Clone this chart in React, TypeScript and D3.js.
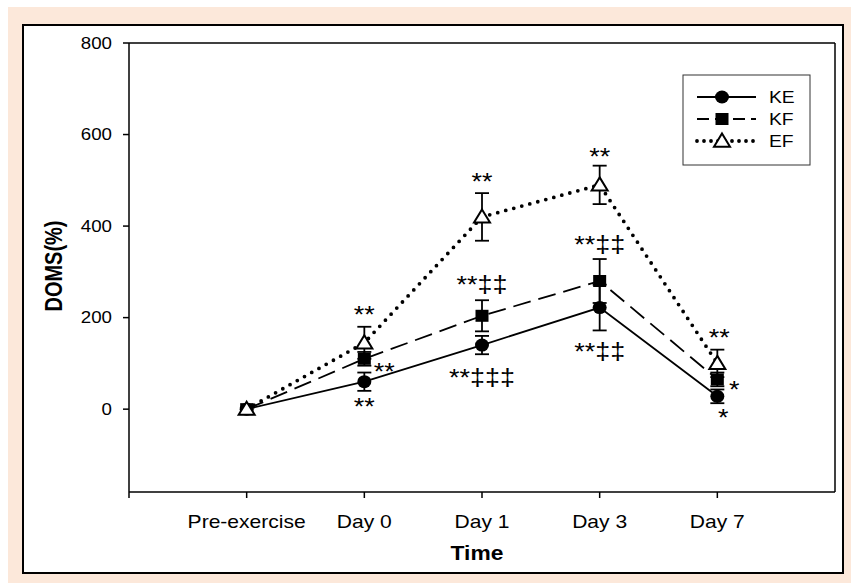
import React from "react";
import * as d3 from "d3";

const categories = ["Pre-exercise", "Day 0", "Day 1", "Day 3", "Day 7"];
const yTicks = [0, 200, 400, 600, 800];
const keValues = [0, 60, 140, 222, 28];
const keErrors = [0, 20, 20, 50, 15];
const kfValues = [0, 110, 204, 280, 65];
const kfErrors = [0, 15, 34, 48, 15];
const efValues = [0, 145, 420, 490, 100];
const efErrors = [0, 35, 52, 42, 30];
const seriesNames = ["KE", "KF", "EF"];
// annotations: [category index, value anchor, dx, dy, text]
const annotations: [number, number, number, number, string][] = [
  [1, 145, 0, -30, "**"],
  [1, 110, 20, 11, "**"],
  [1, 60, 0, 23, "**"],
  [2, 420, 0, -37, "**"],
  [2, 204, 0, -33, "**‡‡"],
  [2, 140, 0, 31, "**‡‡‡"],
  [3, 490, 0, -30, "**"],
  [3, 280, 0, -38, "**‡‡"],
  [3, 222, 0, 42, "**‡‡"],
  [4, 100, 2, -28, "**"],
  [4, 65, 17, 8, "*"],
  [4, 28, 6, 19, "*"],
];

const SX = 1.17;

function T(props: { x: number; y: number; size: number; anchor?: string; bold?: boolean; children: React.ReactNode; dy?: string }) {
  return (
    <text
      transform={`translate(${props.x},${props.y}) scale(${SX},1)`}
      textAnchor={props.anchor || "start"}
      fontSize={props.size}
      fontWeight={props.bold ? "bold" : "normal"}
      dy={props.dy}
      fill="#000"
    >
      {props.children}
    </text>
  );
}

export default function App() {
  const W = 851, H = 583;
  const left = 129, right = 835, top = 43, bottom = 492;
  const x = d3.scaleLinear().domain([0, 6]).range([left, right]);
  const y = d3.scaleLinear().domain([-181, 800]).range([bottom, top]);
  const line = d3.line<number>().x((_, i) => x(i + 1)).y((v) => y(v));

  const series = [
    { name: "KE", values: keValues, errors: keErrors, dash: "none", width: 1.8, cap: "butt" },
    { name: "KF", values: kfValues, errors: kfErrors, dash: "18 8", width: 1.8, cap: "butt" },
    { name: "EF", values: efValues, errors: efErrors, dash: "0 8.3", width: 3.8, cap: "round" },
  ];

  const marker = (name: string, cx: number, cy: number, key: string) => {
    if (name === "KE") return <ellipse key={key} cx={cx} cy={cy} rx={7} ry={6.5} fill="#000" />;
    if (name === "KF") return <rect key={key} x={cx - 6.5} y={cy - 6} width={13} height={12} fill="#000" />;
    const s = 7.5;
    return (
      <path key={key} d={`M${cx},${cy - s}L${cx + s + 0.5},${cy + s * 0.75}L${cx - s - 0.5},${cy + s * 0.75}Z`} fill="#fff" stroke="#000" strokeWidth={2} />
    );
  };

  const font = "Arial, 'Liberation Sans', sans-serif";

  return (
    <svg width={W} height={H} style={{ position: "absolute", left: 0, top: 0 }} fontFamily={font}>
      <rect x={0} y={0} width={W} height={H} fill="#fff" />
      <rect x={8} y={7} width={W - 8} height={H - 7} fill="#fce8da" />
      <rect x={23} y={25} width={820} height={548} fill="#fff" stroke="#000" strokeWidth={2} />
      {/* plot frame */}
      <line x1={left} x2={right} y1={top} y2={top} stroke="#000" strokeWidth={1.5} />
      <line x1={right} x2={right} y1={top} y2={bottom} stroke="#000" strokeWidth={1.5} />
      <line x1={left} x2={left} y1={top} y2={bottom + 6} stroke="#000" strokeWidth={1.5} />
      <line x1={left} x2={right} y1={bottom} y2={bottom} stroke="#000" strokeWidth={1.5} />
      {/* y ticks */}
      {yTicks.map((t) => (
        <g key={t}>
          <line x1={left - 6} x2={left} y1={y(t)} y2={y(t)} stroke="#000" strokeWidth={1.5} />
          <T x={left - 17} y={y(t)} dy="0.36em" anchor="end" size={16}>{t}</T>
        </g>
      ))}
      {/* x ticks */}
      {categories.map((c, i) => (
        <g key={c}>
          <line x1={x(i + 1)} x2={x(i + 1)} y1={bottom} y2={bottom + 6} stroke="#000" strokeWidth={1.5} />
          <T x={x(i + 1)} y={528} anchor="middle" size={18}>{c}</T>
        </g>
      ))}
      <T x={477} y={560} anchor="middle" size={19.5} bold>Time</T>
      <text transform={`translate(62,266) rotate(-90) scale(1,${SX})`} textAnchor="middle" fontSize={20} fontWeight="bold">DOMS(%)</text>
      {/* lines */}
      {series.map((s) => (
        <path key={s.name} d={line(s.values) || ""} fill="none" stroke="#000" strokeWidth={s.width} strokeDasharray={s.dash} strokeLinecap={s.cap as any} />
      ))}
      {/* error bars */}
      {series.map((s) =>
        s.values.map((v, i) =>
          s.errors[i] > 0 ? (
            <g key={s.name + i} stroke="#000" strokeWidth={1.8}>
              <line x1={x(i + 1)} x2={x(i + 1)} y1={y(v - s.errors[i])} y2={y(v + s.errors[i])} />
              <line x1={x(i + 1) - 7} x2={x(i + 1) + 7} y1={y(v - s.errors[i])} y2={y(v - s.errors[i])} />
              <line x1={x(i + 1) - 7} x2={x(i + 1) + 7} y1={y(v + s.errors[i])} y2={y(v + s.errors[i])} />
            </g>
          ) : null
        )
      )}
      {/* markers */}
      {series.map((s) => s.values.map((v, i) => marker(s.name, x(i + 1), y(v), s.name + "m" + i)))}
      {/* annotations */}
      {annotations.map(([ci, v, dx, dy, t], k) => (
        <T key={k} x={x(ci + 1) + dx} y={y(v) + dy} dy="0.45em" anchor="middle" size={23}>{t}</T>
      ))}
      {/* legend */}
      <rect x={683} y={75} width={127} height={90} fill="#fff" stroke="#333" strokeWidth={1} />
      {series.map((s, i) => {
        const ly = 97 + i * 22;
        return (
          <g key={"lg" + s.name}>
            <line x1={697} x2={756} y1={ly} y2={ly} stroke="#000" strokeWidth={s.width} strokeDasharray={s.name === "KF" ? "12 6" : s.dash === "0 8.3" ? "0 7" : "none"} strokeLinecap={s.cap as any} />
            {marker(s.name, 722, ly, "lgm" + i)}
            <T x={769} y={ly} dy="0.36em" size={16.5}>{seriesNames[i]}</T>
          </g>
        );
      })}
    </svg>
  );
}
